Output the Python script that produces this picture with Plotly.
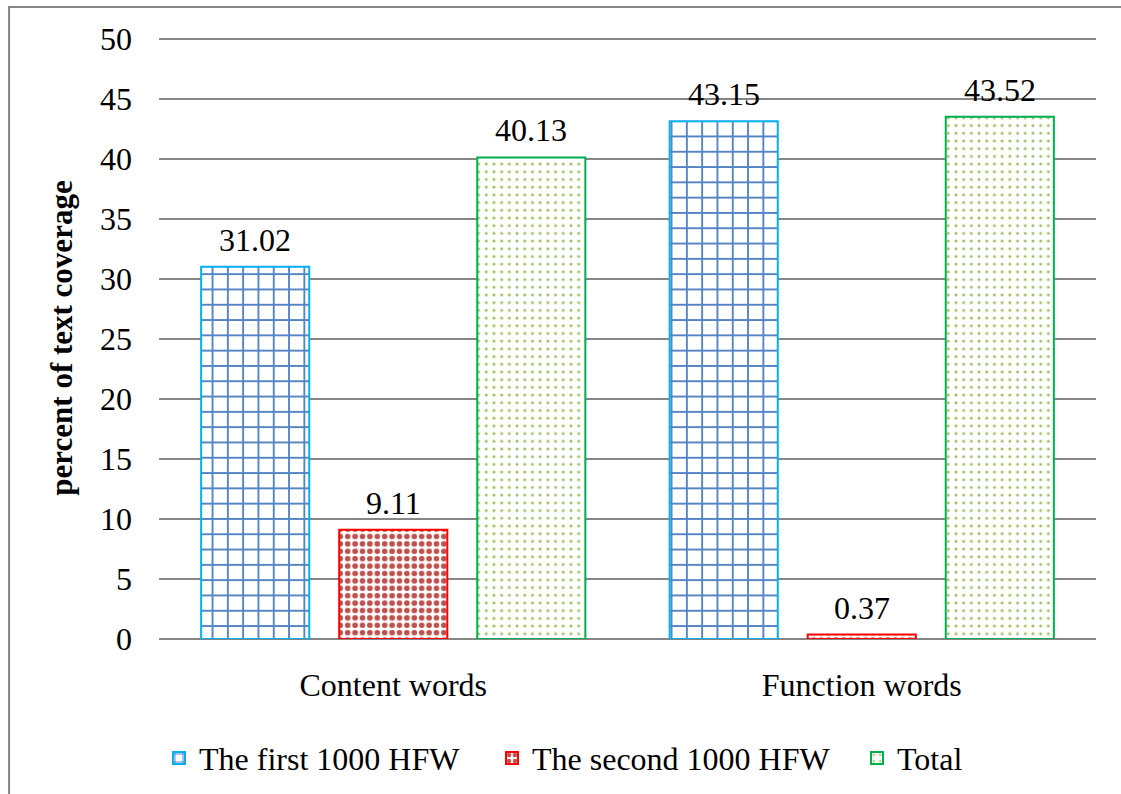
import plotly.graph_objects as go

categories = ["Content words", "Function words"]
first_1000 = [31.02, 43.15]
second_1000 = [9.11, 0.37]
total = [40.13, 43.52]

series_names = ["The first 1000 HFW", "The second 1000 HFW", "Total"]

FONT = "Liberation Serif, Times New Roman, serif"
GRID = "#868686"
BARGAP = 0.116
BARGROUPGAP = 0.217

styles = [
    dict(line="#00B0F0", legendwidth=288,
         pattern=dict(shape="+", fgcolor="#5484C4", bgcolor="white", fgopacity=1,
                      size=15.3, solidity=0.23)),
    dict(line="#FF0000", legendwidth=320,
         pattern=dict(shape=".", fgcolor="#C0504D", bgcolor="white", fgopacity=1,
                      size=7.4, solidity=0.46)),
    dict(line="#00B050", legendwidth=70,
         pattern=dict(shape=".", fgcolor="#9DBE62", bgcolor="white", fgopacity=1,
                      size=7.7, solidity=0.12)),
]

all_values = [first_1000, second_1000, total]

fig = go.Figure()
for name, values, st in zip(series_names, all_values, styles):
    fig.add_trace(go.Bar(
        name=name,
        x=categories,
        y=values,
        legendwidth=st["legendwidth"],
        marker=dict(color="white", line=dict(color=st["line"], width=2),
                    pattern=st["pattern"]),
    ))

# value labels above each bar (grouped slot centres on the category scale)
n_series = len(all_values)
slot = (1 - BARGAP) / n_series
annotations = []
for i, values in enumerate(all_values):
    offset = (i - (n_series - 1) / 2) * slot
    for ci, v in enumerate(values):
        annotations.append(dict(
            x=ci + offset, y=v, xref="x", yref="y",
            text=f"{v:.2f}", showarrow=False,
            yanchor="bottom", yshift=7,
            font=dict(family=FONT, size=32, color="black"),
        ))

fig.update_layout(
    width=1121,
    height=794,
    margin=dict(l=159, r=25, t=37, b=155, autoexpand=False),
    paper_bgcolor="white",
    plot_bgcolor="white",
    font=dict(family=FONT, size=32, color="black"),
    barmode="group",
    bargap=BARGAP,
    bargroupgap=BARGROUPGAP,
    showlegend=True,
    legend=dict(
        orientation="h",
        x=0.0, xanchor="left",
        y=-0.198, yanchor="middle",
        font=dict(family=FONT, size=32, color="black"),
        bgcolor="rgba(0,0,0,0)",
        itemclick=False,
    ),
    xaxis=dict(
        showgrid=False,
        showline=False,
        ticks="",
        ticklabelstandoff=24,
        tickfont=dict(family=FONT, size=32, color="black"),
    ),
    yaxis=dict(
        range=[0, 50.17],
        dtick=5,
        tick0=0,
        showgrid=True,
        gridcolor=GRID,
        gridwidth=2,
        zeroline=True,
        zerolinecolor=GRID,
        zerolinewidth=2,
        showline=False,
        ticks="",
        ticklabelstandoff=26,
        tickfont=dict(family=FONT, size=32, color="black"),
        title=dict(text="<b>percent of text coverage</b>",
                   font=dict(family=FONT, size=31, color="black"),
                   standoff=18),
    ),
    annotations=annotations,
    shapes=[
        # outer chart frame: left and top edges
        dict(type="line", xref="paper", yref="paper",
             x0=-0.160, x1=-0.160, y0=-0.35, y1=1.0499,
             line=dict(color=GRID, width=2), layer="below"),
        dict(type="line", xref="paper", yref="paper",
             x0=-0.161, x1=1.1, y0=1.0499, y1=1.0499,
             line=dict(color=GRID, width=2), layer="below"),
    ],
)

fig.write_html("out.html")
